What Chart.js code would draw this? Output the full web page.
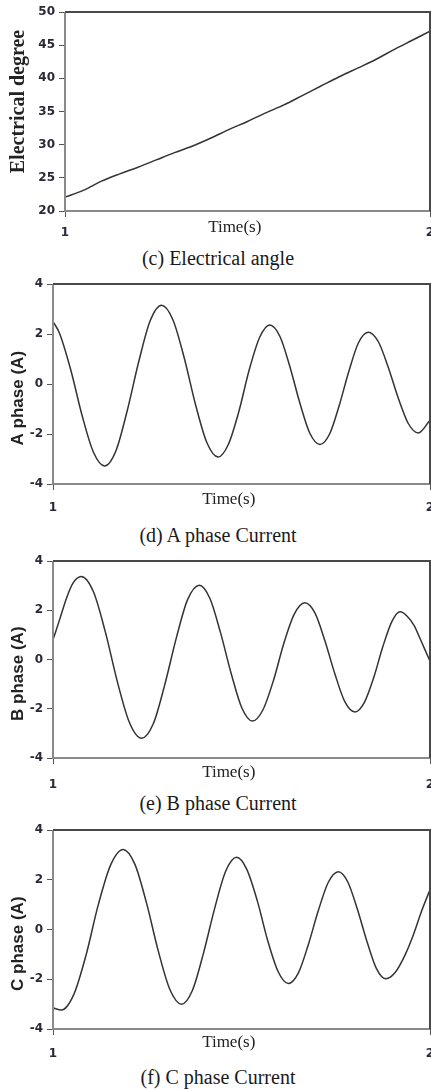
<!DOCTYPE html>
<html>
<head>
<meta charset="utf-8">
<script src="https://cdn.jsdelivr.net/npm/chart.js@4.4.1/dist/chart.umd.min.js"></script>
<style>
  body { margin: 0; background: #fff; width: 431px; height: 1090px; position: relative; overflow: hidden; }
  canvas { position: absolute; left: 0; }
  .cap { position: absolute; left: 0; width: 436px; text-align: center; font: 20px "Liberation Serif", serif; color: #1a1a1a; line-height: 24px; }
</style>
</head>
<body>
<canvas id="angle" width="431" height="240" style="top:0px"></canvas>
<div class="cap" style="top:246px">(c) Electrical angle</div>
<canvas id="phaseA" width="431" height="245" style="top:270px"></canvas>
<div class="cap" style="top:523px">(d) A phase Current</div>
<canvas id="phaseB" width="431" height="245" style="top:545px"></canvas>
<div class="cap" style="top:791px">(e) B phase Current</div>
<canvas id="phaseC" width="431" height="245" style="top:815px"></canvas>
<div class="cap" style="top:1065px">(f) C phase Current</div>
<script>
// electrical angle (deg) vs time (s)
const angleTime = [1.00, 1.05, 1.10, 1.15, 1.20, 1.25, 1.30, 1.35, 1.40, 1.45, 1.50,
                   1.55, 1.60, 1.65, 1.70, 1.75, 1.80, 1.85, 1.90, 1.95, 2.00];
const angleDeg = [22.1, 23.1, 24.5, 25.6, 26.6, 27.7, 28.8, 29.8, 31.0, 32.3, 33.5,
                  34.8, 36.0, 37.4, 38.8, 40.2, 41.5, 42.8, 44.3, 45.7, 47.1];

// A phase current (A)
const aTime = [1.000, 1.017, 1.047, 1.077, 1.107, 1.137, 1.167, 1.197, 1.228, 1.258,
               1.288, 1.318, 1.348, 1.378, 1.408, 1.438, 1.465, 1.493, 1.520, 1.548,
               1.575, 1.602, 1.628, 1.655, 1.681, 1.708, 1.734, 1.759, 1.785, 1.810,
               1.836, 1.863, 1.889, 1.916, 1.942, 1.969, 2.000];
const aCurrent = [2.50, 2.04, 0.57, -1.25, -2.72, -3.28, -2.67, -1.06, 0.93, 2.54,
                  3.15, 2.57, 1.05, -0.82, -2.34, -2.92, -2.42, -1.10, 0.54, 1.86,
                  2.36, 1.90, 0.71, -0.77, -1.96, -2.42, -1.99, -0.87, 0.52, 1.64,
                  2.07, 1.69, 0.68, -0.57, -1.57, -1.96, -1.45];

// B phase current (A)
const bTime = [1.000, 1.018, 1.036, 1.053, 1.075, 1.107, 1.139, 1.171, 1.203,
               1.235, 1.266, 1.296, 1.327, 1.357, 1.388, 1.416, 1.444, 1.473, 1.501,
               1.529, 1.557, 1.585, 1.612, 1.640, 1.668, 1.695, 1.721, 1.748, 1.774,
               1.801, 1.826, 1.851, 1.875, 1.900, 1.921, 1.940, 1.958, 1.975, 1.988, 2.000];
const bCurrent = [0.80, 1.64, 2.50, 3.10, 3.37, 2.76, 1.11, -0.92, -2.57,
                  -3.20, -2.61, -1.05, 0.87, 2.43, 3.02, 2.49, 1.11, -0.59, -1.97,
                  -2.50, -2.04, -0.84, 0.64, 1.84, 2.30, 1.88, 0.77, -0.60, -1.71,
                  -2.13, -1.74, -0.72, 0.53, 1.58, 1.94, 1.75, 1.38, 0.80, 0.35, -0.07];

// C phase current (A)
const cTime = [1.000, 1.022, 1.055, 1.088, 1.120, 1.153, 1.186, 1.217, 1.248, 1.279,
               1.310, 1.341, 1.370, 1.399, 1.429, 1.458, 1.487, 1.514, 1.542, 1.569,
               1.597, 1.624, 1.651, 1.677, 1.704, 1.730, 1.757, 1.782, 1.807, 1.833,
               1.858, 1.883, 1.908, 1.933, 1.955, 1.978, 2.000];
const cCurrent = [-3.15, -3.24, -2.62, -1.01, 0.99, 2.60, 3.22, 2.63, 1.07, -0.85,
                  -2.41, -3.00, -2.44, -0.96, 0.86, 2.34, 2.90, 2.42, 1.15, -0.42,
                  -1.69, -2.17, -1.74, -0.62, 0.77, 1.89, 2.32, 1.91, 0.83, -0.49,
                  -1.57, -1.98, -1.72, -1.05, -0.25, 0.75, 1.60];

const xTicks = [1, 2];

// box around the plot area: light left/bottom, darker top/right
const frame = {
  id: 'frame',
  afterDatasetsDraw(chart) {
    const { ctx, chartArea: { left, right, top, bottom } } = chart;
    ctx.save();
    ctx.lineWidth = 2;
    ctx.strokeStyle = '#8a8a8a';
    ctx.beginPath();
    ctx.moveTo(left, top);
    ctx.lineTo(left, bottom);
    ctx.lineTo(right, bottom);
    ctx.stroke();
    ctx.strokeStyle = '#484848';
    ctx.beginPath();
    ctx.moveTo(left, top);
    ctx.lineTo(right, top);
    ctx.lineTo(right, bottom);
    ctx.stroke();
    ctx.restore();
  }
};

const tickFont = { family: '"DejaVu Sans", sans-serif', size: 12, weight: 'bold' };
const nb = n => '\u00a0'.repeat(n);

function makeChart(id, times, values, c) {
  const canvas = document.getElementById(id);
  const H = canvas.height;
  return new Chart(canvas, {
    type: 'line',
    data: {
      datasets: [{
        data: times.map((t, i) => ({ x: t, y: values[i] })),
        borderColor: '#333',
        borderWidth: 1.5,
        pointRadius: 0,
        cubicInterpolationMode: 'monotone',
        fill: false
      }]
    },
    options: {
      responsive: false,
      animation: false,
      events: [],
      layout: { padding: { top: c.areaTop, right: 1, left: 0, bottom: 0 } },
      plugins: { legend: { display: false }, tooltip: { enabled: false } },
      scales: {
        x: {
          type: 'linear',
          min: xTicks[0],
          max: xTicks[1],
          afterBuildTicks: s => { s.ticks = xTicks.map(v => ({ value: v })); },
          afterFit: s => {
            s.height = H - c.areaBottom;
            s.paddingLeft = 0;
            s.paddingRight = 0;
          },
          border: { display: false },
          grid: { drawOnChartArea: false, drawTicks: true, tickLength: 6, color: '#555' },
          ticks: { font: tickFont, color: '#2b2838', padding: c.xPad, maxRotation: 0, autoSkip: false },
          title: {
            display: true,
            text: 'Time(s)' + nb(6),
            color: '#222',
            font: { family: '"Liberation Serif", serif', size: 17 },
            padding: { top: 0, bottom: H - c.timeY - 10 }
          }
        },
        y: {
          min: c.yMin,
          max: c.yMax,
          afterFit: s => { s.width = c.left; },
          border: { display: false },
          grid: { drawOnChartArea: false, drawTicks: true, tickLength: 6, color: '#555' },
          ticks: { stepSize: c.yStep, font: tickFont, color: '#2b2838', padding: 4 },
          title: {
            display: true,
            text: c.yTitle,
            color: '#222',
            font: c.yTitleFont,
            padding: { top: c.yTitlePad, bottom: 0 }
          }
        }
      }
    },
    plugins: [frame]
  });
}

const sansTitle = { family: '"Liberation Sans", sans-serif', size: 17, weight: 'bold' };

makeChart('angle', angleTime, angleDeg, {
  areaTop: 12, areaBottom: 211, left: 65, xPad: 9, timeY: 228,
  yMin: 20, yMax: 50, yStep: 5, yTitle: nb(4) + 'Electrical degree',
  yTitleFont: { family: '"Liberation Serif", serif', size: 20, weight: 'bold' }, yTitlePad: 7
});
makeChart('phaseA', aTime, aCurrent, {
  areaTop: 14, areaBottom: 214, left: 53, xPad: 11, timeY: 230,
  yMin: -4, yMax: 4, yStep: 2, yTitle: 'A phase (A)' + nb(6), yTitleFont: sansTitle, yTitlePad: 8
});
makeChart('phaseB', bTime, bCurrent, {
  areaTop: 16, areaBottom: 213, left: 53, xPad: 14, timeY: 228,
  yMin: -4, yMax: 4, yStep: 2, yTitle: 'B phase (A)' + nb(6), yTitleFont: sansTitle, yTitlePad: 8
});
makeChart('phaseC', cTime, cCurrent, {
  areaTop: 15, areaBottom: 214, left: 53, xPad: 12, timeY: 228,
  yMin: -4, yMax: 4, yStep: 2, yTitle: 'C phase (A)' + nb(6), yTitleFont: sansTitle, yTitlePad: 8
});
</script>
</body>
</html>
